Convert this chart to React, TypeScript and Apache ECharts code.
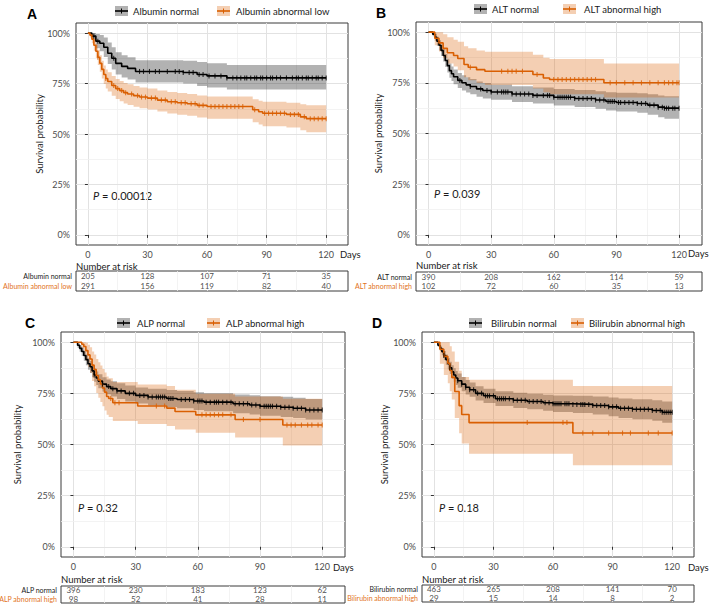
import React, { useEffect, useRef } from 'react';
import * as echarts from 'echarts';

// ---------- shared ticks ----------
const xTicks = [0, 30, 60, 90, 120];
const xMinor = [15, 45, 75, 105];
const yTicks = [0, 25, 50, 75, 100];
const yMinor = [12.5, 37.5, 62.5, 87.5];
const riskTimes = [0, 30, 60, 90, 120];

// ---------- Panel A: Albumin ----------
const aGroups = ['Albumin normal', 'Albumin abnormal low'];
const aNormT = [0, 2, 4, 6, 8, 10, 12, 14, 17, 20, 24, 48, 55, 60, 70, 120];
const aNormS = [100, 98.5, 96, 95, 93, 90, 87.5, 85, 83.5, 82.5, 81, 80.5, 79.5, 78.8, 77.8, 77.8];
const aNormHi = [100, 100, 99.5, 99, 97.8, 95.3, 93, 90.5, 89, 88, 86.5, 86.3, 85.7, 85.1, 84.2, 84.2];
const aNormLo = [100, 97, 92.5, 91, 88.2, 84.7, 82, 79.5, 78, 77, 75.5, 75, 73.8, 73, 72, 72];
const aLowT = [0, 1, 2, 3, 4, 5, 6, 7, 8, 9, 10, 12, 14, 16, 18, 20, 23, 26, 30, 35, 40, 45, 50, 55, 60, 80, 83, 86, 88, 100, 107, 110, 120];
const aLowS = [100, 99, 97, 94, 91, 88, 85, 82, 79.5, 77.5, 76, 74, 72.5, 71.5, 70.5, 69.8, 69, 68.3, 67.8, 66.8, 66, 65.5, 65, 64.2, 63.6, 63.6, 62, 61, 60.3, 59.7, 58.5, 57.6, 57.6];
const aLowHi = [100, 100, 99.5, 97, 94.5, 91.8, 89, 86.3, 84, 82, 80.6, 78.7, 77.3, 76.3, 75.3, 74.6, 73.8, 73, 72.5, 71.5, 70.8, 70.3, 69.8, 69.1, 68.6, 68.6, 67.2, 66.5, 66, 65.5, 64.8, 64.3, 64.3];
const aLowLo = [100, 97.8, 95, 91.2, 87.6, 84.2, 80.8, 77.5, 74.8, 72.6, 71, 68.9, 67.3, 66.2, 65.1, 64.4, 63.5, 62.8, 62.2, 61.1, 60.2, 59.6, 59, 58.2, 57.5, 57.5, 55.8, 54.7, 53.9, 53.2, 51.9, 50.9, 50.9];
const aNormCens = [3, 5, 13, 26, 28, 31, 34, 36, 40, 44, 46, 48, 51, 53, 56, 58, 61, 64, 67, 70, 73, 75, 77, 79, 80, 82, 84, 85, 87, 88, 90, 92, 93, 95, 97, 100, 103, 105, 106, 108, 110, 111, 113, 115, 116, 118, 120];
const aLowCens = [5, 9, 13, 15, 17, 19, 22, 25, 27, 29, 32, 34, 37, 39, 42, 44, 47, 49, 52, 54, 56, 58, 62, 64, 66, 68, 70, 72, 74, 76, 78, 84, 89, 91, 93, 95, 97, 99, 102, 104, 106, 109, 112, 114, 116, 118, 120];
const aNormRisk = [205, 128, 107, 71, 35];
const aLowRisk = [291, 156, 119, 82, 40];
const aP = '0.00012';

// ---------- Panel B: ALT ----------
const bGroups = ['ALT normal', 'ALT abnormal high'];
const bNormT = [0, 2, 3, 4, 5, 6, 7, 8, 9, 10, 11, 12, 14, 16, 18, 20, 23, 26, 30, 40, 50, 60, 70, 80, 85, 90, 100, 105, 110, 113, 120];
const bNormS = [100, 99, 97.5, 95.5, 93.5, 91, 88.5, 86, 83.5, 81, 79.5, 78, 76.2, 75, 74, 73.2, 72, 71.2, 70.5, 69.5, 68.8, 67.9, 67.3, 66.5, 65.8, 65.3, 64.8, 64, 63, 62.5, 62.5];
const bNormHi = [100, 100, 99.2, 97.7, 96, 93.8, 91.5, 89.2, 86.9, 84.5, 83, 81.6, 79.9, 78.7, 77.7, 76.9, 75.7, 74.9, 74.2, 73.3, 72.7, 71.9, 71.5, 70.9, 70.4, 70.1, 69.8, 69.3, 68.7, 68.4, 68.4];
const bNormLo = [100, 98, 95.7, 93.3, 91, 88.2, 85.5, 82.8, 80.1, 77.5, 75.9, 74.3, 72.4, 71.2, 70.2, 69.3, 68.1, 67.3, 66.6, 65.5, 64.8, 63.8, 63.1, 62.2, 61.4, 60.8, 60.2, 59.2, 58, 57.3, 57.3];
const bHighT = [0, 3, 5, 7, 9, 12, 14, 17, 19, 23, 27, 50, 55, 58, 84, 120];
const bHighS = [100, 97, 94.7, 92, 89.8, 88.5, 87, 84, 82.7, 81.5, 80.7, 79.1, 77.4, 76.6, 75, 75];
const bHighHi = [100, 100, 100, 99, 97.5, 96.3, 95.2, 93, 92, 91, 90.3, 88.9, 87.4, 86.7, 84.5, 84.5];
const bHighLo = [100, 93.5, 90.5, 87.2, 84.5, 83, 81.2, 77.8, 76.3, 74.9, 73.9, 72.2, 70.3, 69.4, 67.7, 67.7];
const bNormCens = [15, 20, 25, 28, 30, 33, 35, 36, 37, 38, 40, 42, 44, 46, 48, 50, 52, 55, 57, 58, 60, 62, 63, 64, 65, 66, 67, 68, 70, 72, 74, 76, 78, 80, 82, 84, 86, 87, 88, 89, 91, 92, 94, 96, 98, 100, 102, 104, 106, 108, 110, 112, 113, 114, 115, 117, 118, 120];
const bHighCens = [20, 35, 38, 40, 42, 45, 52, 60, 62, 64, 66, 68, 70, 72, 74, 76, 78, 80, 87, 90, 94, 98, 102, 106, 110, 113, 115, 117, 119, 120];
const bNormRisk = [390, 208, 162, 114, 59];
const bHighRisk = [102, 72, 60, 35, 13];
const bP = '0.039';

// ---------- Panel C: ALP ----------
const cGroups = ['ALP normal', 'ALP abnormal high'];
const cNormT = [0, 2, 3, 4, 5, 6, 7, 8, 9, 10, 11, 12, 14, 16, 18, 21, 25, 30, 36, 45, 50, 58, 63, 77, 85, 90, 100, 106, 112, 120];
const cNormS = [100, 98.5, 97, 95.5, 93.5, 91.5, 89.5, 88, 86, 84, 82.5, 81, 79.5, 78.3, 77.3, 76.2, 75, 74, 73.2, 72.5, 72, 71.3, 70.7, 69.9, 69.3, 68.7, 68.2, 67.7, 66.9, 66.9];
const cNormHi = [100, 99.5, 98.5, 97.5, 95.8, 94, 92.2, 90.8, 88.9, 87.1, 85.7, 84.3, 82.9, 81.8, 80.9, 79.9, 78.8, 77.9, 77.2, 76.6, 76.2, 75.6, 75.1, 74.5, 74.1, 73.6, 73.3, 72.9, 72.3, 72.3];
const cNormLo = [100, 97.3, 95.3, 93.3, 91, 88.8, 86.6, 85, 82.9, 80.7, 79.1, 77.5, 75.9, 74.6, 73.5, 72.3, 71, 70, 69.1, 68.3, 67.7, 66.9, 66.3, 65.3, 64.7, 64, 63.5, 63, 62.2, 62.2];
const cHighT = [0, 4, 5, 6, 7, 8, 9, 10, 11, 12, 13, 14, 15, 16, 17, 19, 31, 45, 49, 59, 78, 101, 120];
const cHighS = [100, 99, 97.9, 95.9, 93.8, 91.8, 88.8, 86.7, 83.7, 81.6, 79.6, 77.6, 75.6, 73.5, 72.5, 70.4, 68.8, 67.8, 66.1, 64.5, 62.2, 59.5, 59.5];
const cHighHi = [100, 100, 100, 99.8, 98.8, 97.5, 95.5, 94, 91.8, 90.2, 88.6, 86.9, 85.2, 83.3, 82.4, 80.5, 79.3, 78.6, 76.8, 74.8, 73.5, 72.4, 72.4];
const cHighLo = [100, 97, 94.4, 91.1, 88, 85.1, 81.1, 78.5, 75.2, 72.9, 70.8, 68.7, 66.6, 64.5, 63.5, 61.5, 60, 59, 57.3, 55.8, 53.4, 49.5, 49.5];
const cNormCens = [10, 14, 17, 19, 21, 23, 27, 29, 32, 34, 36, 38, 40, 41, 42, 43, 44, 46, 47, 48, 52, 54, 56, 58, 60, 61, 62, 64, 66, 68, 69, 70, 72, 74, 76, 78, 80, 82, 84, 86, 88, 90, 92, 93, 94, 95, 96, 98, 100, 102, 104, 106, 108, 110, 112, 114, 116, 118, 120];
const cHighCens = [18, 20, 22, 40, 44, 62, 64, 66, 68, 70, 72, 76, 82, 90, 103, 105, 107, 110, 113, 115, 118, 120];
const cNormRisk = [396, 230, 183, 123, 62];
const cHighRisk = [98, 52, 41, 28, 11];
const cP = '0.32';

// ---------- Panel D: Bilirubin ----------
const dGroups = ['Bilirubin normal', 'Bilirubin abnormal high'];
const dNormT = [0, 2, 3, 4, 5, 6, 7, 8, 9, 10, 11, 12, 14, 16, 18, 21, 25, 31, 40, 47, 55, 60, 70, 80, 88, 93, 100, 110, 115, 120];
const dNormS = [100, 98.5, 97, 95.4, 93.5, 91.5, 89.5, 87.5, 85.5, 84, 82.5, 81.2, 79.5, 78, 76.8, 75, 73.8, 72.4, 71.6, 71, 70.4, 69.9, 69.6, 69.1, 68.4, 67.7, 67.2, 66.6, 65.8, 65.8];
const dNormHi = [100, 99.3, 98.3, 97.2, 95.7, 94, 92.3, 90.5, 88.7, 87.3, 85.9, 84.7, 83, 81.5, 80.3, 78.5, 77.3, 76, 75.3, 74.8, 74.3, 73.9, 73.8, 73.5, 73, 72.5, 72.1, 71.6, 71, 71];
const dNormLo = [100, 97.7, 95.7, 93.6, 91.3, 89, 86.7, 84.5, 82.3, 80.7, 79.1, 77.7, 76, 74.5, 73.3, 71.5, 70.3, 68.8, 67.9, 67.2, 66.5, 65.9, 65.4, 64.7, 63.8, 62.9, 62.3, 61.6, 60.6, 60.6];
const dHighT = [0, 3, 5, 7, 8, 9, 10.5, 12.7, 14, 17.7, 70, 120];
const dHighS = [100, 96.6, 93.1, 89.7, 86.2, 82.8, 75.9, 69, 64.7, 60.7, 55.6, 55.6];
const dHighHi = [100, 100, 100, 100, 98, 95.5, 90.5, 86, 83, 81.7, 78.6, 78.6];
const dHighLo = [100, 89.5, 84, 80, 76, 72, 63, 55.5, 50.5, 45.5, 39.8, 39.8];
const dNormCens = [5, 8, 12, 14, 16, 18, 20, 22, 24, 26, 27, 28, 30, 32, 33, 34, 35, 36, 38, 40, 42, 44, 46, 48, 50, 52, 54, 56, 58, 60, 61, 62, 63, 64, 66, 67, 68, 70, 72, 74, 75, 76, 78, 80, 82, 84, 86, 88, 90, 92, 94, 96, 98, 100, 102, 104, 106, 108, 110, 112, 114, 115, 116, 117, 118, 119, 120];
const dHighCens = [47, 65, 67, 75, 80, 88, 95, 99, 108, 113, 120];
const dNormRisk = [463, 265, 208, 141, 70];
const dHighRisk = [29, 15, 14, 8, 2];
const dP = '0.18';

// ---------- styling ----------
const FONT = 'Lato, "Noto Sans", sans-serif';
const ORANGE = '#D95F02';
const ORANGE_TEXT = '#E2731C';
const BLACK = '#000000';
const BAND = ['rgba(0,0,0,0.3)', 'rgba(217,95,2,0.3)'];
const LINE = [BLACK, ORANGE];

type Curve = { t: number[]; s: number[]; hi: number[]; lo: number[]; cens: number[]; risk: number[] };
type Panel = {
  letter: string;
  groups: string[];
  curves: Curve[];
  p: string;
  layout: {
    grid: { left: number; top: number; width: number; height: number };
    risk: { left: number; top: number; width: number; height: number };
    yNameGap: number;
    daysPos: [number, number];
    letterPos: [number, number];
    legendY: number;
    legendKeys: [number, number][];
    narPos: [number, number];
    pPos: [number, number];
  };
};

const panels: Panel[] = [
  {
    letter: 'A', groups: aGroups, p: aP,
    curves: [
      { t: aNormT, s: aNormS, hi: aNormHi, lo: aNormLo, cens: aNormCens, risk: aNormRisk },
      { t: aLowT, s: aLowS, hi: aLowHi, lo: aLowLo, cens: aLowCens, risk: aLowRisk },
    ],
    layout: {
      grid: { left: 76, top: 23, width: 272, height: 222 },
      risk: { left: 76, top: 271, width: 272, height: 20 },
      yNameGap: 32, daysPos: [340, 254], letterPos: [27, 14], legendY: 11,
      legendKeys: [[115, 133], [217, 236]], narPos: [76, 266], pPos: [93, 195],
    },
  },
  {
    letter: 'B', groups: bGroups, p: bP,
    curves: [
      { t: bNormT, s: bNormS, hi: bNormHi, lo: bNormLo, cens: bNormCens, risk: bNormRisk },
      { t: bHighT, s: bHighS, hi: bHighHi, lo: bHighLo, cens: bHighCens, risk: bHighRisk },
    ],
    layout: {
      grid: { left: 416, top: 22, width: 286, height: 223 },
      risk: { left: 416, top: 272, width: 286, height: 19 },
      yNameGap: 33, daysPos: [688, 253], letterPos: [376, 13], legendY: 9,
      legendKeys: [[474, 492], [563, 584]], narPos: [416, 265], pPos: [434, 193],
    },
  },
  {
    letter: 'C', groups: cGroups, p: cP,
    curves: [
      { t: cNormT, s: cNormS, hi: cNormHi, lo: cNormLo, cens: cNormCens, risk: cNormRisk },
      { t: cHighT, s: cHighS, hi: cHighHi, lo: cHighLo, cens: cHighCens, risk: cHighRisk },
    ],
    layout: {
      grid: { left: 61, top: 332, width: 284, height: 225 },
      risk: { left: 61, top: 586, width: 284, height: 17 },
      yNameGap: 39, daysPos: [333, 567], letterPos: [25, 323], legendY: 323,
      legendKeys: [[117, 137], [207, 226]], narPos: [61, 579], pPos: [78, 507],
    },
  },
  {
    letter: 'D', groups: dGroups, p: dP,
    curves: [
      { t: dNormT, s: dNormS, hi: dNormHi, lo: dNormLo, cens: dNormCens, risk: dNormRisk },
      { t: dHighT, s: dHighS, hi: dHighHi, lo: dHighLo, cens: dHighCens, risk: dHighRisk },
    ],
    layout: {
      grid: { left: 422, top: 332, width: 272, height: 225 },
      risk: { left: 422, top: 585, width: 272, height: 17 },
      yNameGap: 33, daysPos: [688, 567], letterPos: [372, 323], legendY: 323,
      legendKeys: [[469, 491], [571, 589]], narPos: [422, 579], pPos: [439, 507],
    },
  },
];

function stepAt(t: number[], s: number[], d: number): number {
  let v = s[0];
  for (let i = 0; i < t.length; i++) {
    if (t[i] <= d) v = s[i];
    else break;
  }
  return v;
}

function buildOption() {
  const grid: any[] = [];
  const xAxis: any[] = [];
  const yAxis: any[] = [];
  const series: any[] = [];
  const graphic: any[] = [];

  const majorLine = { color: '#e2e2e2', width: 1, type: 'solid' };
  const minorLine = { color: '#f0f0f0', width: 0.8, type: 'solid' };

  panels.forEach((p, pi) => {
    const L = p.layout;
    const gMain = pi * 2;
    const gRisk = pi * 2 + 1;

    grid.push({ ...L.grid, show: true, borderColor: '#3a3a3a', borderWidth: 1, backgroundColor: '#fff', containLabel: false, outerBoundsMode: 'none' });
    grid.push({ ...L.risk, show: true, borderColor: '#3a3a3a', borderWidth: 1, backgroundColor: '#fff', containLabel: false, outerBoundsMode: 'none' });

    xAxis.push({
      gridIndex: gMain, type: 'value', min: -6, max: 131,
      axisLine: { show: false },
      axisTick: { show: true, customValues: xTicks, length: 3, lineStyle: { color: '#333' } },
      axisLabel: { customValues: xTicks, color: '#4d4d4d', fontSize: 9, margin: 5, fontFamily: FONT },
      splitLine: { show: false },
    });
    yAxis.push({
      gridIndex: gMain, type: 'value', min: -5, max: 105,
      axisLine: { show: false },
      axisTick: { show: true, customValues: yTicks, length: 3, lineStyle: { color: '#333' } },
      axisLabel: { customValues: yTicks, color: '#4d4d4d', fontSize: 9, margin: 6, fontFamily: FONT, formatter: (v: number) => v + '%' },
      splitLine: { show: false },
      name: 'Survival probability', nameLocation: 'middle', nameGap: L.yNameGap, nameMoveOverlap: false,
      nameTextStyle: { fontSize: 9.5, color: '#1a1a1a', fontFamily: FONT },
    });

    xAxis.push({ gridIndex: gRisk, type: 'value', min: -6, max: 131, show: false, splitLine: { show: false } });
    yAxis.push({
      gridIndex: gRisk, type: 'category', data: p.groups, inverse: true,
      axisLine: { show: false }, axisTick: { show: false }, splitLine: { show: false },
      axisLabel: {
        fontSize: 7, margin: 4, fontFamily: FONT, interval: 0, hideOverlap: false,
        color: (_v: any, idx: number) => (idx === 0 ? '#1a1a1a' : ORANGE_TEXT),
      },
    });

    // grid lines for main panel
    series.push({
      type: 'line', xAxisIndex: gMain, yAxisIndex: gMain, data: [], silent: true, z: 0,
      markLine: {
        silent: true, z: 0, symbol: ['none', 'none'], label: { show: false }, animation: false,
        data: [
          ...xTicks.map((v) => ({ xAxis: v, lineStyle: majorLine })),
          ...xMinor.map((v) => ({ xAxis: v, lineStyle: minorLine })),
          ...yTicks.map((v) => ({ yAxis: v, lineStyle: majorLine })),
          ...yMinor.map((v) => ({ yAxis: v, lineStyle: minorLine })),
        ],
      },
    });
    // faint grid lines in risk table
    series.push({
      type: 'line', xAxisIndex: gRisk, yAxisIndex: gRisk, data: [], silent: true, z: 0,
      markLine: {
        silent: true, z: 0, symbol: ['none', 'none'], label: { show: false }, animation: false,
        data: [
          ...xTicks.map((v) => ({ xAxis: v, lineStyle: minorLine })),
          ...xMinor.map((v) => ({ xAxis: v, lineStyle: minorLine })),
        ],
      },
    });

    p.curves.forEach((c, ci) => {
      // confidence band (step-shaped polygon)
      series.push({
        type: 'custom', xAxisIndex: gMain, yAxisIndex: gMain, silent: true, z: 2,
        name: p.groups[ci] + ' CI',
        data: [[0, 0]],
        renderItem: (_params: any, api: any) => {
          const pts: number[][] = [];
          const n = c.t.length;
          for (let i = 0; i < n; i++) {
            const x2 = i < n - 1 ? c.t[i + 1] : c.t[i];
            pts.push(api.coord([c.t[i], c.hi[i]]));
            pts.push(api.coord([x2, c.hi[i]]));
          }
          for (let i = n - 1; i >= 0; i--) {
            const x2 = i < n - 1 ? c.t[i + 1] : c.t[i];
            pts.push(api.coord([x2, c.lo[i]]));
            pts.push(api.coord([c.t[i], c.lo[i]]));
          }
          return { type: 'polygon', shape: { points: pts }, style: { fill: BAND[ci], stroke: 'none' } };
        },
      });
      // survival step line
      series.push({
        type: 'line', name: p.groups[ci], xAxisIndex: gMain, yAxisIndex: gMain, z: 3,
        step: 'end', showSymbol: false, symbol: 'none', silent: true,
        lineStyle: { color: LINE[ci], width: 1.6 },
        data: c.t.map((x, i) => [x, c.s[i]]),
      });
      // censor marks
      series.push({
        type: 'scatter', name: p.groups[ci] + ' censored', xAxisIndex: gMain, yAxisIndex: gMain, z: 4,
        symbol: 'rect', symbolSize: [1.1, 5], silent: true,
        itemStyle: { color: LINE[ci] },
        data: c.cens.map((d) => [d, stepAt(c.t, c.s, d)]),
      });
      // risk table numbers
      series.push({
        type: 'scatter', name: p.groups[ci] + ' at risk', xAxisIndex: gRisk, yAxisIndex: gRisk, z: 4,
        symbolSize: 1, silent: true, itemStyle: { color: 'rgba(0,0,0,0)' },
        label: {
          show: true, position: 'inside', fontSize: 8, color: '#1a1a1a', fontFamily: FONT,
          formatter: (prm: any) => String(prm.value[2]),
        },
        labelLayout: { hideOverlap: false },
        data: riskTimes.map((t, i) => [t, p.groups[ci], c.risk[i]]),
      });
    });

    // panel letter
    graphic.push({
      type: 'text', x: L.letterPos[0], y: L.letterPos[1],
      style: { text: p.letter, fill: '#000', font: 'bold 14px "Liberation Sans", Arial, sans-serif', align: 'left', verticalAlign: 'middle' },
    });
    // x-axis title
    graphic.push({
      type: 'text', x: L.daysPos[0], y: L.daysPos[1],
      style: { text: 'Days', fill: '#1a1a1a', fontSize: 9.5, fontFamily: FONT, align: 'left', verticalAlign: 'middle' },
    });
    // legend
    L.legendKeys.forEach(([kx, tx], ci) => {
      const y = L.legendY;
      graphic.push({ type: 'rect', shape: { x: kx, y: y - 5, width: 13, height: 10 }, style: { fill: BAND[ci] } });
      graphic.push({ type: 'line', shape: { x1: kx, y1: y, x2: kx + 13, y2: y }, style: { stroke: LINE[ci], lineWidth: 1.6 } });
      graphic.push({ type: 'line', shape: { x1: kx + 6.5, y1: y - 2.5, x2: kx + 6.5, y2: y + 2.5 }, style: { stroke: LINE[ci], lineWidth: 1 } });
      graphic.push({
        type: 'text', x: tx, y,
        style: { text: p.groups[ci], fill: '#1a1a1a', fontSize: 9.5, fontFamily: FONT, align: 'left', verticalAlign: 'middle' },
      });
    });
    // Number at risk title
    graphic.push({
      type: 'text', x: L.narPos[0], y: L.narPos[1],
      style: { text: 'Number at risk', fill: '#1a1a1a', fontSize: 9.5, fontFamily: FONT, align: 'left', verticalAlign: 'middle' },
    });
    // P value
    graphic.push({
      type: 'text', x: L.pPos[0], y: L.pPos[1],
      style: {
        text: '{i|P} = ' + p.p, fill: '#1a1a1a', fontSize: 11, fontFamily: FONT, align: 'left', verticalAlign: 'middle',
        rich: { i: { fontStyle: 'italic', fontSize: 11, fontFamily: FONT, fill: '#1a1a1a' } },
      },
    });
  });

  return {
    animation: false,
    backgroundColor: '#ffffff',
    textStyle: { fontFamily: FONT },
    grid, xAxis, yAxis, series, graphic,
  };
}

export default function App() {
  const ref = useRef<HTMLDivElement>(null);
  useEffect(() => {
    if (!ref.current) return;
    const chart = echarts.init(ref.current, null, { renderer: 'svg' });
    chart.setOption(buildOption() as any);
    return () => chart.dispose();
  }, []);
  return (
    <div
      ref={ref}
      style={{ position: 'absolute', left: 0, top: 0, width: 709, height: 607, background: '#fff' }}
    />
  );
}
